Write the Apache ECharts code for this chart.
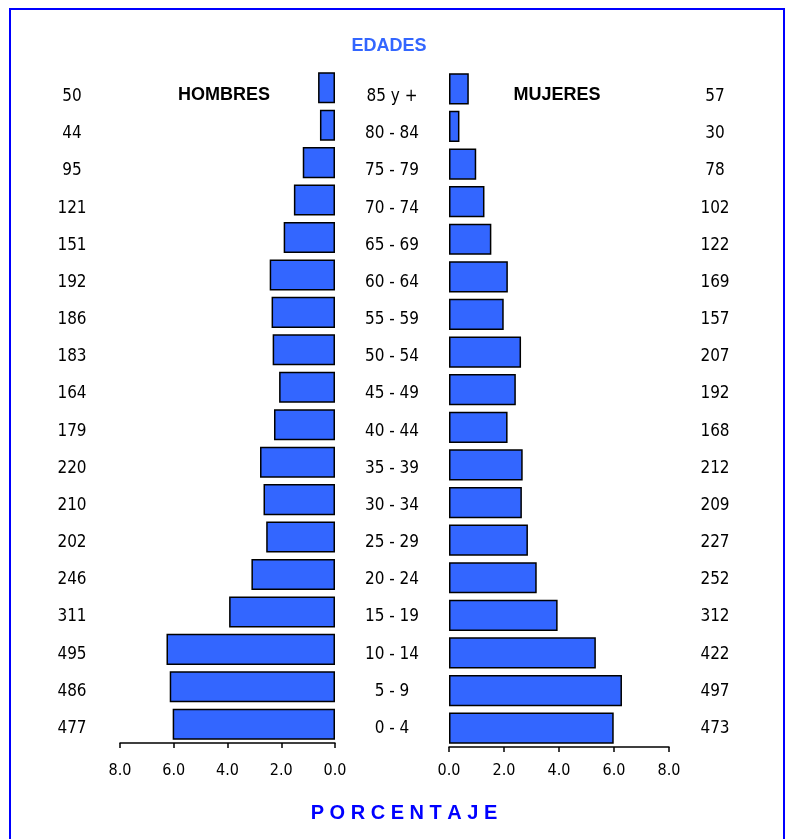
<!DOCTYPE html>
<html>
<head>
<meta charset="utf-8">
<script src="https://cdn.jsdelivr.net/npm/echarts@6/dist/echarts.min.js"></script>
<style>
html,body{margin:0;padding:0;background:#fff;}
#chart{width:791px;height:839px;}
</style>
</head>
<body>
<div id="chart"></div>
<script>
const ages = ['85 y +','80 - 84','75 - 79','70 - 74','65 - 69','60 - 64','55 - 59','50 - 54','45 - 49','40 - 44','35 - 39','30 - 34','25 - 29','20 - 24','15 - 19','10 - 14','5 - 9','0 - 4'];
const menCounts = [50,44,95,121,151,192,186,183,164,179,220,210,202,246,311,495,486,477];
const womenCounts = [57,30,78,102,122,169,157,207,192,168,212,209,227,252,312,422,497,473];
const menPct = [0.63,0.56,1.20,1.53,1.91,2.43,2.36,2.32,2.08,2.27,2.79,2.66,2.56,3.11,3.94,6.27,6.15,6.04];
const womenPct = [0.72,0.38,0.99,1.29,1.54,2.14,1.99,2.62,2.43,2.13,2.68,2.65,2.87,3.19,3.95,5.34,6.29,5.99];
const pctTicks = [0, 2, 4, 6, 8];

const NARROW = "'Liberation Sans Narrow','Arial Narrow','DejaVu Sans Condensed',sans-serif";
const BOLD = "Arial,'Liberation Sans',sans-serif";
const barBlue = '#3366ff';

const chart = echarts.init(document.getElementById('chart'), null, {renderer:'canvas'});

const valueAxis = (grid, inverse, margin) => ({
  gridIndex: grid, type: 'value', inverse: inverse,
  min: pctTicks[0], max: pctTicks[pctTicks.length-1], interval: pctTicks[1]-pctTicks[0],
  position: 'bottom',
  axisLine: {show:true, lineStyle:{color:'#000', width:1.5}},
  axisTick: {show:true, length:5, lineStyle:{color:'#000', width:1.5}},
  splitLine: {show:false},
  axisLabel: {formatter: v => v.toFixed(1), color:'#000', fontFamily: NARROW, fontSize: 16, margin: margin}
});
const hiddenX = grid => ({gridIndex: grid, type:'value', show:false, min:0, max:8});
const catAxis = (grid, data, pos, show, margin) => ({
  gridIndex: grid, type: 'category', data: data, inverse: true, position: pos,
  axisLine: {show:false}, axisTick: {show:false}, splitLine:{show:false},
  axisLabel: {show: show, margin: margin, align: 'center', color:'#000', fontFamily: NARROW, fontSize: 17}
});

chart.setOption({
  animation: false,
  backgroundColor: '#fff',
  grid: [
    {left: 120, top: 69, width: 215, height: 674},
    {left: 449, top: 70, width: 220, height: 677},
    {left: 120, top: 78, width: 215, height: 669},
    {left: 449, top: 78, width: 220, height: 669}
  ],
  xAxis: [valueAxis(0, true, 20), valueAxis(1, false, 16), hiddenX(2), hiddenX(3)],
  yAxis: [
    catAxis(0, ages, 'right', false, 8),
    catAxis(1, ages, 'left', false, 8),
    catAxis(2, ages, 'right', true, 57),
    catAxis(2, menCounts.map(String), 'left', true, 48),
    catAxis(3, womenCounts.map(String), 'right', true, 46)
  ],
  series: [
    {type:'bar', name:'HOMBRES', xAxisIndex:0, yAxisIndex:0, data: menPct, barCategoryGap:'17%',
     itemStyle:{color: barBlue, borderColor:'#000', borderWidth:1.5}},
    {type:'bar', name:'MUJERES', xAxisIndex:1, yAxisIndex:1, data: womenPct, barCategoryGap:'17%',
     itemStyle:{color: barBlue, borderColor:'#000', borderWidth:1.5}}
  ],
  graphic: [
    {type:'rect', shape:{x:10, y:9, width:774, height:900}, style:{fill:'none', stroke:'#0000ff', lineWidth:2}, silent:true},
    {type:'text', x:389, y:46, style:{text:'EDADES', font:"bold 18px " + BOLD, fill:'#3366ff', align:'center', verticalAlign:'middle'}},
    {type:'text', x:224, y:95, style:{text:'HOMBRES', font:"bold 18px " + BOLD, fill:'#000', align:'center', verticalAlign:'middle'}},
    {type:'text', x:557, y:95, style:{text:'MUJERES', font:"bold 18px " + BOLD, fill:'#000', align:'center', verticalAlign:'middle'}},
    {type:'text', x:404, y:813, style:{text:'P O R C E N T A J E', font:"bold 20px " + BOLD, fill:'#0000ff', align:'center', verticalAlign:'middle'}}
  ]
});
</script>
</body>
</html>
